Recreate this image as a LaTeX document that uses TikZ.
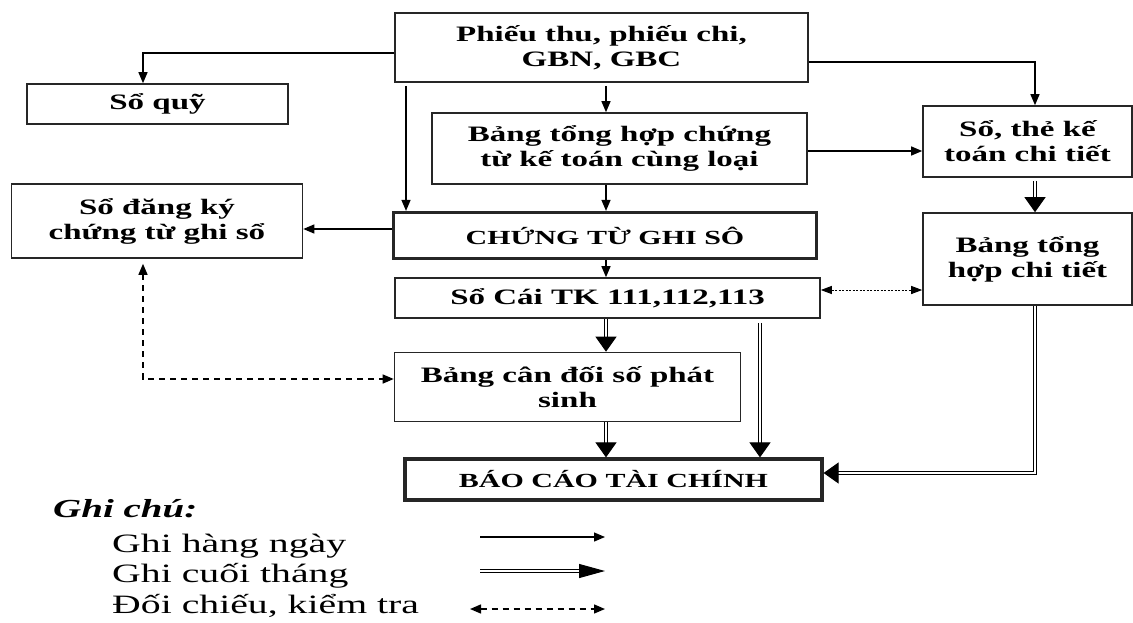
\documentclass[tikz,border=0pt]{standalone}
\usepackage{fontspec}
\setmainfont{Liberation Serif}
\newfontfamily\boxfont{Liberation Serif}[FakeStretch=1.5]
\newfontfamily\legfont{Liberation Serif}[FakeStretch=1.5]
\usetikzlibrary{arrows.meta}

\begin{document}
\begin{tikzpicture}[x=1pt,y=-1pt,
  box/.style={draw=black!85, line width=1.6pt, inner sep=0pt, align=center,
    font=\boxfont\bfseries\fontsize{22}{25}\selectfont},
  thickbox/.style={box, line width=3.2pt,
    font=\boxfont\bfseries\fontsize{20}{24}\selectfont},
  arr/.style={line width=1.3pt, -{Triangle[length=11pt,width=9pt]}},
  dbl/.style={double=white, draw=black, line width=1.1pt, double distance=1.6pt,
    -{Triangle[length=15pt,width=21pt]}},
  dash2/.style={line width=1.4pt, dash pattern=on 6pt off 5pt,
    {Triangle[length=11pt,width=9pt]}-{Triangle[length=11pt,width=9pt]}},
  dot2/.style={line width=1pt, dash pattern=on 2pt off 1.5pt,
    {Triangle[length=11pt,width=8pt]}-{Triangle[length=11pt,width=8pt]}},
  legtext/.style={anchor=base west, inner sep=0pt,
    font=\legfont\fontsize{26.5}{30}\selectfont},
]
\path[use as bounding box, fill=white] (0,0) rectangle (1133,622);

% boxes
\node[box, minimum width=413pt, minimum height=69pt] (top) at (601.5,47.5)
  {Phiếu thu, phiếu chi,\\GBN, GBC};
\node[box, minimum width=261pt, minimum height=40pt] (quy) at (157.5,104) {Sổ quỹ};
\node[box, minimum width=375pt, minimum height=71pt] (bth) at (619.5,148.5)
  {Bảng tổng hợp chứng\\từ kế toán cùng loại};
\node[thickbox, minimum width=423pt, minimum height=46pt] (ctgs) at (605,235.5)
  {CHỨNG TỪ GHI SÔ};
\node[box, minimum width=291pt, minimum height=74pt] (sdk) at (157,221)
  {Sổ đăng ký\\chứng từ ghi sổ};
\node[box, minimum width=209pt, minimum height=71pt] (stk) at (1027.5,141.5)
  {Sổ, thẻ kế\\toán chi tiết};
\node[box, minimum width=209pt, minimum height=92pt] (bthct) at (1027.5,259)
  {Bảng tổng\\hợp chi tiết};
\node[box, minimum width=425pt, minimum height=40pt] (socai) at (607.5,298)
  {Sổ Cái TK 111,112,113};
\node[box, minimum width=346pt, minimum height=69pt] (bcd) at (567.5,387)
  {Bảng cân đối số phát\\sinh};
\node[thickbox, minimum width=417pt, minimum height=41pt] (bctc) at (613.5,479.5)
  {BÁO CÁO TÀI CHÍNH};

% routing guides
\coordinate (cx) at (606,0);
\coordinate (lx) at (406,0);
\coordinate (qk) at (143,53);
\coordinate (tk) at (1035,62);
\coordinate (r229) at (0,229);
\coordinate (r151) at (0,151);
\coordinate (r290) at (0,290);
\coordinate (dk) at (143,379);
\coordinate (x760) at (760,0);
\coordinate (rb) at (1035,473);

% daily entries
\draw[arr] (top.west |- qk) -| (quy.north -| qk);
\draw[arr] ([yshift=-3pt]top.south -| cx) -- (bth.north -| cx);
\draw[arr] ([yshift=-3pt]top.south -| lx) -- (ctgs.north -| lx);
\draw[arr] (bth.south -| cx) -- (ctgs.north -| cx);
\draw[arr] (ctgs.west |- r229) -- (sdk.east |- r229);
\draw[arr] (top.east |- tk) -| (stk.north -| tk);
\draw[arr] (bth.east |- r151) -- (stk.west |- r151);
\draw[arr] (ctgs.south -| cx) -- (socai.north -| cx);

% month-end entries
\draw[dbl] ([yshift=-3pt]stk.south -| tk) -- (bthct.north -| tk);
\draw[dbl] (socai.south -| cx) -- (bcd.north -| cx);
\draw[dbl] (bcd.south -| cx) -- (bctc.north -| cx);
\draw[dbl] ([yshift=-4pt]socai.south -| x760) -- (bctc.north -| x760);
\draw[dbl] (bthct.south -| rb) |- (bctc.east |- rb);

% cross-checks
\draw[dot2] (socai.east |- r290) -- (bthct.west |- r290);
\draw[dash2] ([yshift=-5pt]sdk.south -| dk) |- (bcd.west |- dk);

% legend
\node[anchor=base west, inner sep=0pt,
  font=\legfont\bfseries\itshape\fontsize{26}{30}\selectfont] (gc) at (53,517) {Ghi chú:};
\node[legtext] (l1) at (112,552) {Ghi hàng ngày};
\node[legtext] (l2) at (112,582) {Ghi cuối tháng};
\node[legtext] (l3) at (112,613) {Đối chiếu, kiểm tra};
\coordinate (a1) at (480,537);
\coordinate (b1) at (605,537);
\coordinate (a2) at (480,571);
\coordinate (b2) at (605,571);
\coordinate (a3) at (470,609);
\coordinate (b3) at (605,609);
\draw[arr] (a1) -- (b1);
\draw[double=white, draw=black, line width=1.1pt, double distance=1.6pt,
  -{Triangle[length=26pt,width=14pt]}] (a2) -- (b2);
\draw[dash2] (a3) -- (b3);
\end{tikzpicture}
\end{document}
